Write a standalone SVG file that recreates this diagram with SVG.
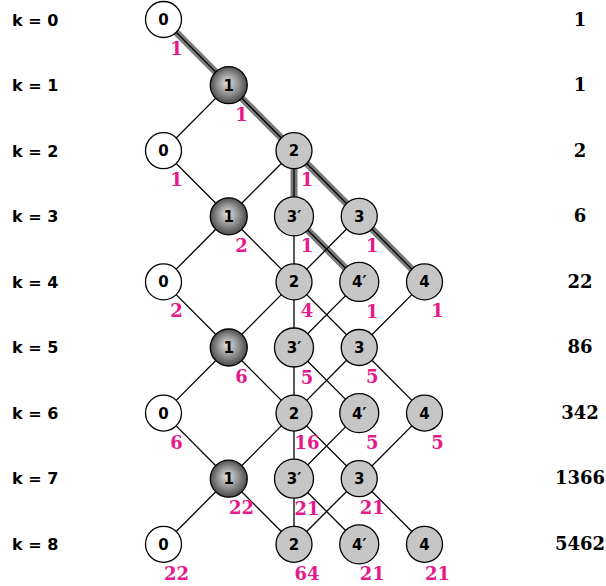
<svg xmlns="http://www.w3.org/2000/svg" width="606" height="586" viewBox="0 0 606 586">
<defs>
<radialGradient id="ball" cx="50%" cy="50%" r="55%" fx="46%" fy="42%">
<stop offset="0%" stop-color="#e2e2e2"/>
<stop offset="55%" stop-color="#8c8c8c"/>
<stop offset="100%" stop-color="#3c3c3c"/>
</radialGradient>
<style>
.e{stroke:#000;stroke-width:1.3;fill:none}
.hl{stroke:#7a7a7a;stroke-width:7;fill:none;stroke-linejoin:round}
.w{fill:#fff;stroke:#000;stroke-width:1.3}
.b{fill:url(#ball);stroke:#000;stroke-width:1.3}
.g{fill:#c6c6c6;stroke:#000;stroke-width:1.3}
.t{font-family:"DejaVu Sans",sans-serif;font-weight:bold;font-size:15px;text-anchor:middle;fill:#000}
.c{font-family:"DejaVu Serif",serif;font-weight:bold;font-size:18px;text-anchor:middle;fill:#e6198c}
.r{font-family:"DejaVu Serif",serif;font-weight:bold;font-size:18px;text-anchor:middle;fill:#000}
.k{font-family:"DejaVu Sans",sans-serif;font-weight:bold;font-size:16px;fill:#000}
</style>
</defs>
<rect width="606" height="586" fill="#fff"/>

<g id="connectors">
<polyline class="hl" points="163.5,19.5 228.75,85.1 294,150.7 294,216.3 359.25,281.9"/>
<polyline class="hl" points="294,150.7 359.25,216.3 424.5,281.9"/>
<line class="e" x1="163.5" y1="19.5" x2="228.75" y2="85.1"/>
<line class="e" x1="228.75" y1="85.1" x2="163.5" y2="150.7"/>
<line class="e" x1="228.75" y1="85.1" x2="294" y2="150.7"/>
<line class="e" x1="163.5" y1="150.7" x2="228.75" y2="216.3"/>
<line class="e" x1="294" y1="150.7" x2="228.75" y2="216.3"/>
<line class="e" x1="294" y1="150.7" x2="294" y2="216.3"/>
<line class="e" x1="294" y1="150.7" x2="359.25" y2="216.3"/>
<line class="e" x1="228.75" y1="216.3" x2="163.5" y2="281.9"/>
<line class="e" x1="228.75" y1="216.3" x2="294" y2="281.9"/>
<line class="e" x1="294" y1="216.3" x2="294" y2="281.9"/>
<line class="e" x1="294" y1="216.3" x2="359.25" y2="281.9"/>
<line class="e" x1="359.25" y1="216.3" x2="294" y2="281.9"/>
<line class="e" x1="359.25" y1="216.3" x2="424.5" y2="281.9"/>
<line class="e" x1="163.5" y1="281.9" x2="228.75" y2="347.5"/>
<line class="e" x1="294" y1="281.9" x2="228.75" y2="347.5"/>
<line class="e" x1="294" y1="281.9" x2="294" y2="347.5"/>
<line class="e" x1="294" y1="281.9" x2="359.25" y2="347.5"/>
<line class="e" x1="359.25" y1="281.9" x2="294" y2="347.5"/>
<line class="e" x1="424.5" y1="281.9" x2="359.25" y2="347.5"/>
<line class="e" x1="228.75" y1="347.5" x2="163.5" y2="413.1"/>
<line class="e" x1="228.75" y1="347.5" x2="294" y2="413.1"/>
<line class="e" x1="294" y1="347.5" x2="294" y2="413.1"/>
<line class="e" x1="294" y1="347.5" x2="359.25" y2="413.1"/>
<line class="e" x1="359.25" y1="347.5" x2="294" y2="413.1"/>
<line class="e" x1="359.25" y1="347.5" x2="424.5" y2="413.1"/>
<line class="e" x1="163.5" y1="413.1" x2="228.75" y2="478.7"/>
<line class="e" x1="294" y1="413.1" x2="228.75" y2="478.7"/>
<line class="e" x1="294" y1="413.1" x2="294" y2="478.7"/>
<line class="e" x1="294" y1="413.1" x2="359.25" y2="478.7"/>
<line class="e" x1="359.25" y1="413.1" x2="294" y2="478.7"/>
<line class="e" x1="424.5" y1="413.1" x2="359.25" y2="478.7"/>
<line class="e" x1="228.75" y1="478.7" x2="163.5" y2="544.3"/>
<line class="e" x1="228.75" y1="478.7" x2="294" y2="544.3"/>
<line class="e" x1="294" y1="478.7" x2="294" y2="544.3"/>
<line class="e" x1="294" y1="478.7" x2="359.25" y2="544.3"/>
<line class="e" x1="359.25" y1="478.7" x2="294" y2="544.3"/>
<line class="e" x1="359.25" y1="478.7" x2="424.5" y2="544.3"/>
</g>

<g id="row-labels">
<text class="k" x="12" y="25.5">k = 0</text>
<text class="k" x="12" y="91">k = 1</text>
<text class="k" x="12" y="156.5">k = 2</text>
<text class="k" x="12" y="222">k = 3</text>
<text class="k" x="12" y="287.5">k = 4</text>
<text class="k" x="12" y="353">k = 5</text>
<text class="k" x="12" y="418.5">k = 6</text>
<text class="k" x="12" y="484">k = 7</text>
<text class="k" x="12" y="549.5">k = 8</text>
</g>

<g id="totals">
<text class="r" x="580" y="25.5">1</text>
<text class="r" x="580" y="91">1</text>
<text class="r" x="580" y="156.5">2</text>
<text class="r" x="580" y="222">6</text>
<text class="r" x="580" y="287.5">22</text>
<text class="r" x="580" y="353">86</text>
<text class="r" x="580" y="418.5">342</text>
<text class="r" x="580" y="484">1366</text>
<text class="r" x="580" y="549.5">5462</text>
</g>

<g id="n0_0"><circle class="w" cx="163.5" cy="19.5" r="18"/><text class="t" x="163.5" y="25">0</text><text class="c" x="176.5" y="55">1</text></g>
<g id="n1_1"><circle class="b" cx="228.75" cy="85.1" r="18.5"/><text class="t" x="228.75" y="90.6">1</text><text class="c" x="241.5" y="120.6">1</text></g>
<g id="n2_0"><circle class="w" cx="163.5" cy="150.7" r="18"/><text class="t" x="163.5" y="156.2">0</text><text class="c" x="176.5" y="186.2">1</text></g>
<g id="n2_2"><circle class="g" cx="294" cy="150.7" r="18"/><text class="t" x="294" y="156.2">2</text><text class="c" x="307" y="186.2">1</text></g>
<g id="n3_1"><circle class="b" cx="228.75" cy="216.3" r="18.5"/><text class="t" x="228.75" y="221.8">1</text><text class="c" x="241.5" y="251.8">2</text></g>
<g id="n3_2"><circle class="g" cx="294" cy="216.3" r="19.5"/><text class="t" x="294" y="221.8">3′</text><text class="c" x="307" y="252.3">1</text></g>
<g id="n3_3"><circle class="g" cx="359.25" cy="216.3" r="18"/><text class="t" x="359.25" y="221.8">3</text><text class="c" x="372.25" y="251.8">1</text></g>
<g id="n4_0"><circle class="w" cx="163.5" cy="281.9" r="18"/><text class="t" x="163.5" y="287.4">0</text><text class="c" x="176.5" y="317.4">2</text></g>
<g id="n4_2"><circle class="g" cx="294" cy="281.9" r="18"/><text class="t" x="294" y="287.4">2</text><text class="c" x="307" y="317.4">4</text></g>
<g id="n4_3"><circle class="g" cx="359.25" cy="281.9" r="19.5"/><text class="t" x="359.25" y="287.4">4′</text><text class="c" x="372.25" y="317.9">1</text></g>
<g id="n4_4"><circle class="g" cx="424.5" cy="281.9" r="18"/><text class="t" x="424.5" y="287.4">4</text><text class="c" x="437.5" y="317.4">1</text></g>
<g id="n5_1"><circle class="b" cx="228.75" cy="347.5" r="18.5"/><text class="t" x="228.75" y="353">1</text><text class="c" x="241.5" y="383">6</text></g>
<g id="n5_2"><circle class="g" cx="294" cy="347.5" r="19.5"/><text class="t" x="294" y="353">3′</text><text class="c" x="307" y="383.5">5</text></g>
<g id="n5_3"><circle class="g" cx="359.25" cy="347.5" r="18"/><text class="t" x="359.25" y="353">3</text><text class="c" x="372.25" y="383">5</text></g>
<g id="n6_0"><circle class="w" cx="163.5" cy="413.1" r="18"/><text class="t" x="163.5" y="418.6">0</text><text class="c" x="176.5" y="448.6">6</text></g>
<g id="n6_2"><circle class="g" cx="294" cy="413.1" r="18"/><text class="t" x="294" y="418.6">2</text><text class="c" x="307" y="448.6">16</text></g>
<g id="n6_3"><circle class="g" cx="359.25" cy="413.1" r="19.5"/><text class="t" x="359.25" y="418.6">4′</text><text class="c" x="372.25" y="449.1">5</text></g>
<g id="n6_4"><circle class="g" cx="424.5" cy="413.1" r="18"/><text class="t" x="424.5" y="418.6">4</text><text class="c" x="437.5" y="448.6">5</text></g>
<g id="n7_1"><circle class="b" cx="228.75" cy="478.7" r="18.5"/><text class="t" x="228.75" y="484.2">1</text><text class="c" x="241.5" y="514.2">22</text></g>
<g id="n7_2"><circle class="g" cx="294" cy="478.7" r="19.5"/><text class="t" x="294" y="484.2">3′</text><text class="c" x="307" y="514.7">21</text></g>
<g id="n7_3"><circle class="g" cx="359.25" cy="478.7" r="18"/><text class="t" x="359.25" y="484.2">3</text><text class="c" x="372.25" y="514.2">21</text></g>
<g id="n8_0"><circle class="w" cx="163.5" cy="544.3" r="18"/><text class="t" x="163.5" y="549.8">0</text><text class="c" x="176.5" y="579.8">22</text></g>
<g id="n8_2"><circle class="g" cx="294" cy="544.3" r="18"/><text class="t" x="294" y="549.8">2</text><text class="c" x="307" y="579.8">64</text></g>
<g id="n8_3"><circle class="g" cx="359.25" cy="544.3" r="19.5"/><text class="t" x="359.25" y="549.8">4′</text><text class="c" x="372.25" y="580.3">21</text></g>
<g id="n8_4"><circle class="g" cx="424.5" cy="544.3" r="18"/><text class="t" x="424.5" y="549.8">4</text><text class="c" x="437.5" y="579.8">21</text></g>
</svg>
